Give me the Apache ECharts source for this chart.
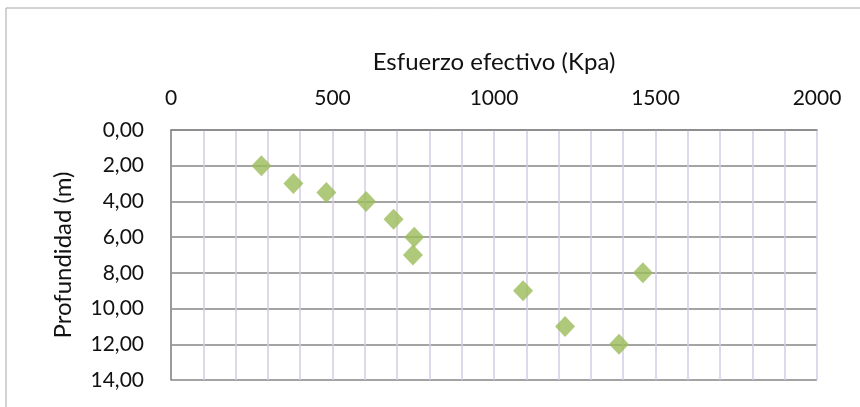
<!DOCTYPE html>
<html><head><meta charset="utf-8">
<script src="https://cdn.jsdelivr.net/npm/echarts@6/dist/echarts.min.js"></script>
<style>html,body{margin:0;padding:0;background:#fff}#c{width:860px;height:407px}</style>
</head><body><div id="c"></div>
<script>
var esfuerzo = [280, 379, 481, 604, 689, 753, 749, 1461, 1090, 1220, 1387];
var profundidad = [2, 3, 3.5, 4, 5, 6, 7, 8, 9, 11, 12];
var xTitle = 'Esfuerzo efectivo (Kpa)';
var yTitle = 'Profundidad (m)';
var data = esfuerzo.map(function(v,i){return [v, profundidad[i]];});
var font = 'Lato, "Open Sans", sans-serif';
var chart = echarts.init(document.getElementById('c'), null, {renderer:'canvas'});
chart.setOption({
  animation:false,
  graphic:[{type:'rect',shape:{x:6,y:8,width:870,height:420},style:{fill:'none',stroke:'#a6a6a6',lineWidth:1}}],
  grid:{left:171,right:43,top:130,bottom:27},
  xAxis:{type:'value',position:'top',min:0,max:2000,interval:500,
    name:xTitle,nameLocation:'middle',nameGap:56,
    nameTextStyle:{fontFamily:font,fontSize:24,color:'#111'},
    axisLine:{show:true,lineStyle:{color:'#868686',width:1.5}},
    axisTick:{show:false},
    axisLabel:{fontFamily:font,fontSize:21,color:'#111',margin:21,
      formatter:function(v){return String(v);}},
    splitLine:{show:true,lineStyle:{color:'#d3cbe3',width:1.5}},
    minorTick:{show:false,splitNumber:5},
    minorSplitLine:{show:true,lineStyle:{color:'#d3cbe3',width:1.5}}
  },
  yAxis:{type:'value',inverse:true,min:0,max:14,interval:2,
    name:yTitle,nameLocation:'middle',nameGap:96,nameRotate:90,
    nameTextStyle:{fontFamily:font,fontSize:24,color:'#111'},
    axisLine:{show:true,lineStyle:{color:'#868686',width:1.5}},
    axisTick:{show:false},
    axisLabel:{fontFamily:font,fontSize:21,color:'#111',margin:27,
      formatter:function(v){return v.toFixed(2).replace('.',',');}},
    splitLine:{show:true,lineStyle:{color:'#868686',width:1.5}}
  },
  series:[{type:'scatter',data:data,symbol:'diamond',symbolSize:[20,21],
    itemStyle:{color:'#9bbb59'}}]
});
</script></body></html>
